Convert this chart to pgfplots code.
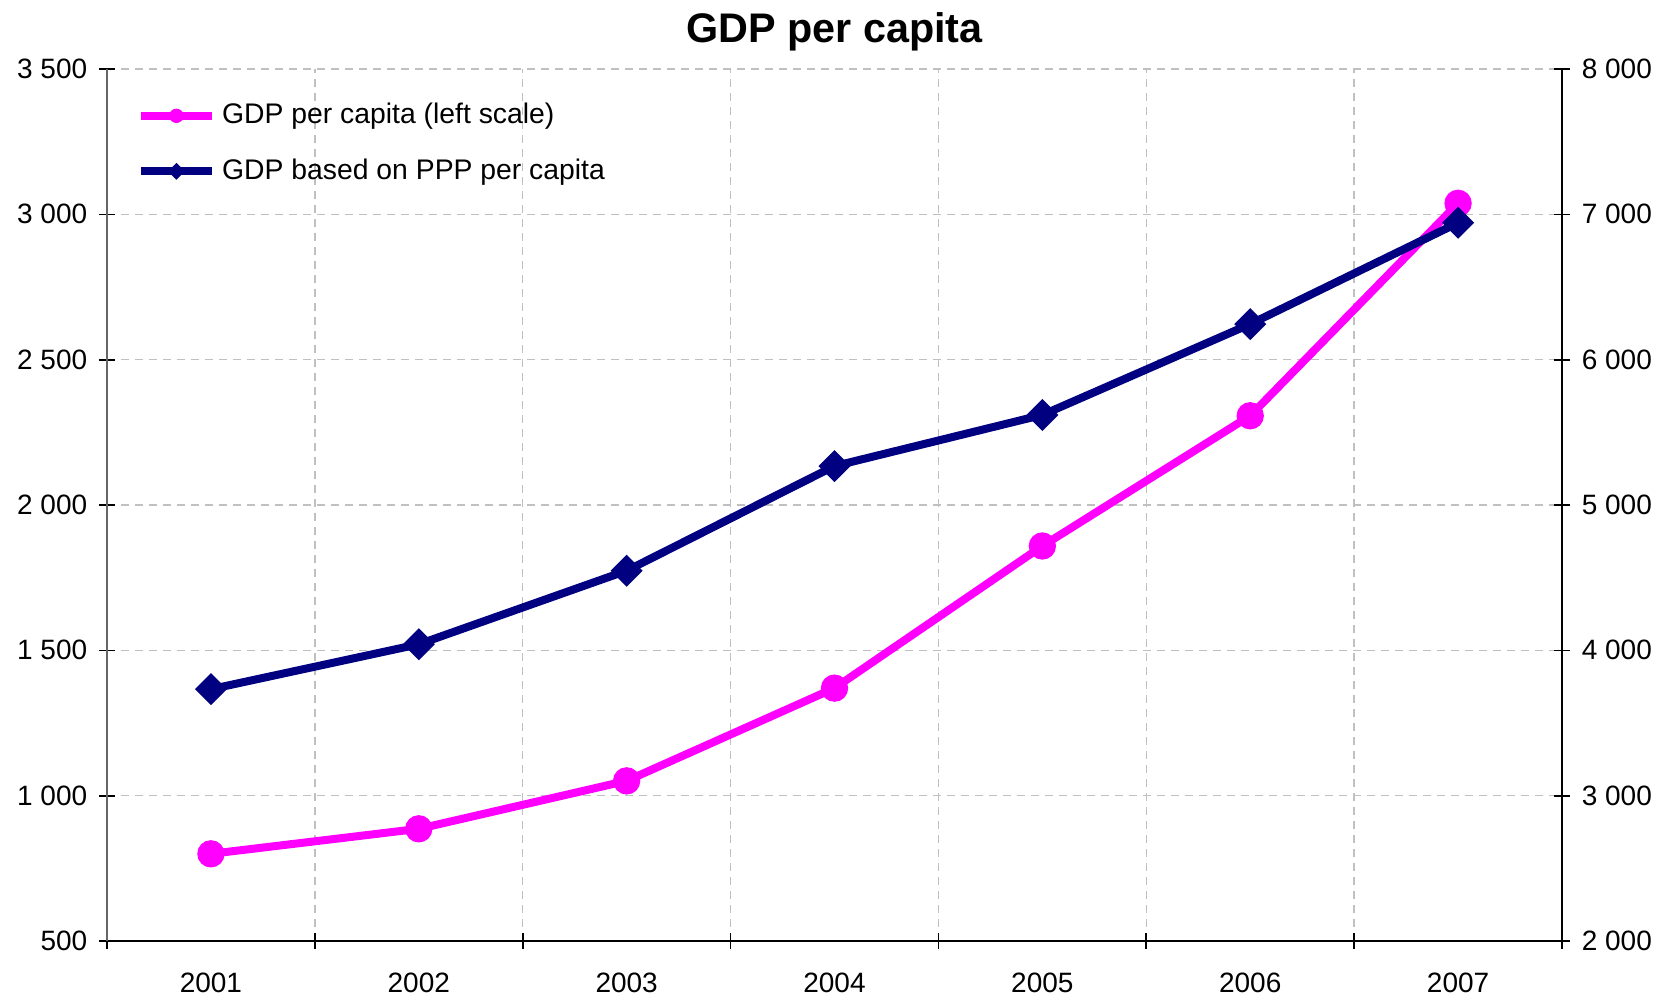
\documentclass[border=0pt]{standalone}
\usepackage{fontspec}
\setmainfont{Liberation Sans}
\setsansfont{Liberation Sans}
\usepackage{pgfplots}
\pgfplotsset{compat=1.18}
\usetikzlibrary{calc}
\definecolor{gdppink}{HTML}{FF00FF}
\definecolor{pppnavy}{HTML}{000080}
\definecolor{gridgray}{HTML}{C0C0C0}

\pgfplotsset{
  common/.style={
    width=436.5pt, height=261.6pt, scale only axis,
    xmin=0.5, xmax=7.5,
    tick align=center, major tick length=4.8pt,
    tick label style={font=\fontsize{8.4}{10}\selectfont},
    tick style={black, line width=0.5pt},
  },
}

\begin{document}
\begin{tikzpicture}
\begin{axis}[common, name=main,
  axis x line*=bottom, axis y line*=left,
  x axis line style={black, line width=0.6pt},
  y axis line style={gray!80!black, line width=0.6pt},
  ymin=500, ymax=3500,
  ytick={500,1000,...,3500},
  yticklabels={500,1 000,1 500,2 000,2 500,3 000,3 500},
  xtick={0.5,1.5,...,7.5}, xticklabels={},
  extra x ticks={1,...,7},
  extra x tick labels={2001,2002,2003,2004,2005,2006,2007},
  extra x tick style={grid=none, major tick length=0pt,
    tick label style={yshift=-6pt}},
  xmajorgrids, ymajorgrids,
  grid style={gridgray, dash pattern=on 2.4pt off 1.8pt, line width=0.4pt},
  title={GDP per capita},
  title style={font=\fontsize{12.4}{14}\selectfont\bfseries, yshift=-4.3pt},
  legend cell align=left,
  legend style={draw=none, fill=none, at={(0.0135,0.977)}, anchor=north west,
    font=\fontsize{8.5}{10}\selectfont, row sep=5pt},
  legend image code/.code={\draw[mark repeat=2,mark phase=2,#1,/tikz/every mark/.append style={scale=0.5}] plot coordinates {(0cm,0cm)(0.37cm,0cm)(0.74cm,0cm)};},
]
\addplot[color=gdppink, line width=2.4pt, mark=*, mark size=3.9pt,
  mark options={line width=0.4pt}]
  coordinates {(1,800) (2,886) (3,1051) (4,1370) (5,1859) (6,2307) (7,3038)};
\addlegendentry{GDP per capita (left scale)}
\addlegendimage{color=pppnavy, line width=2.4pt, mark=square*, mark size=3.2pt,
  mark options={rotate=45, line width=0.4pt}}
\addlegendentry{GDP based on PPP per capita}
\end{axis}
\begin{axis}[common,
  axis x line=none, axis y line*=right,
  y axis line style={black, line width=0.6pt},
  ymin=2000, ymax=8000,
  ytick={2000,3000,...,8000},
  yticklabels={2 000,3 000,4 000,5 000,6 000,7 000,8 000},
]
\addplot[color=pppnavy, line width=2.4pt, mark=square*, mark size=3.2pt,
  mark options={rotate=45, line width=0.4pt}]
  coordinates {(1,3733) (2,4042) (3,4548) (4,5268) (5,5620) (6,6245) (7,6942)};
\end{axis}
\pgfresetboundingbox
\path[use as bounding box] ($(main.south west)+(-32.1pt,-18pt)$) rectangle ($(main.north east)+(33.3pt,20.7pt)$);
\end{tikzpicture}
\end{document}
